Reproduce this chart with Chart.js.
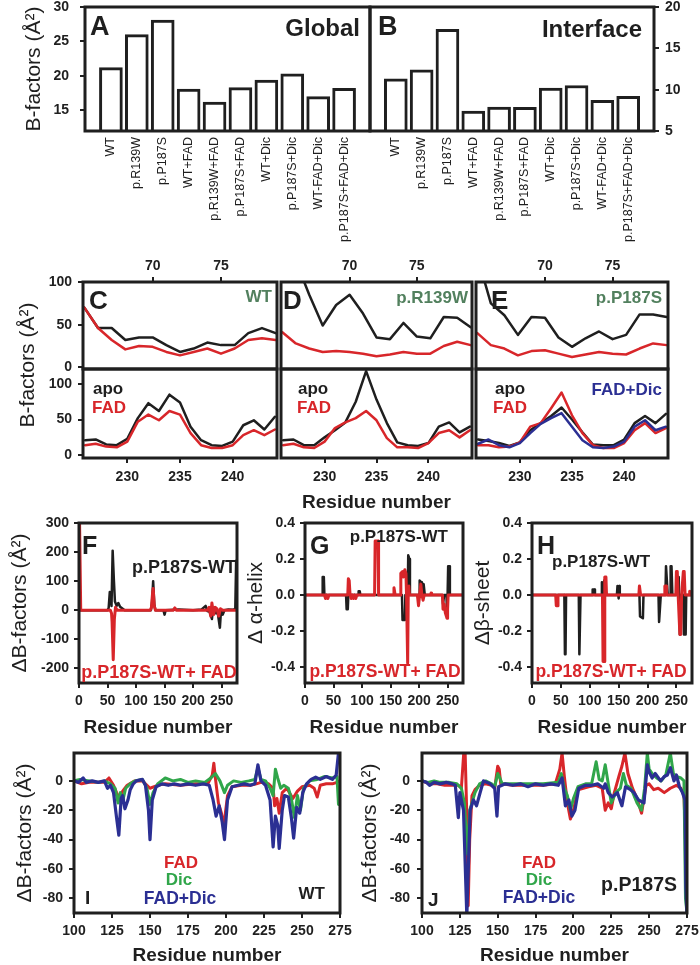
<!DOCTYPE html>
<html>
<head>
<meta charset="utf-8">
<script src="https://cdn.jsdelivr.net/npm/chart.js@4.4.0/dist/chart.umd.min.js"></script>
<style>
  body { margin: 0; background: #fff; }
  #fig { position: relative; width: 700px; height: 965px; overflow: hidden;
         font-family: 'Liberation Sans', Arial, Helvetica, sans-serif; }
  #fig canvas { position: absolute; }
  .note { position: absolute; white-space: nowrap; line-height: 1; font-weight: bold; }
</style>
</head>
<body>
<div id="fig"></div>
<script>
// ---- data ----
const barLabels = ['WT', 'p.R139W', 'p.P187S', 'WT+FAD', 'p.R139W+FAD', 'p.P187S+FAD',
                   'WT+Dic', 'p.P187S+Dic', 'WT-FAD+Dic', 'p.P187S+FAD+Dic'];
const globalB = [21.2, 26.0, 28.1, 18.1, 16.2, 18.3, 19.4, 20.3, 17.0, 18.2];
const interfaceB = [11.3, 12.4, 17.3, 7.4, 7.9, 7.85, 10.2, 10.5, 8.7, 9.2];
const aTicks = [15, 20, 25, 30];
const bTicks = [5, 10, 15, 20];

// residues for the C/D/E zooms (top row uses the upper axis, bottom row the lower one)
const topRes = [65, 66, 67, 68, 69, 70, 71, 72, 73, 74, 75, 76, 77, 78, 79];
const botRes = [226, 227, 228, 229, 230, 231, 232, 233, 234, 235, 236, 237, 238, 239, 240, 241, 242, 243, 244];
const topTicks = [70, 75];
const botTicks = [230, 235, 240];
const subTicks = [0, 50, 100];

const cTopApo = [70, 46, 46, 32, 35, 35, 26, 18, 22, 29, 26, 26, 40, 46, 40];
const cTopFad = [70, 46, 32, 21, 25, 24, 18, 14, 18, 22, 16, 22, 32, 34, 32];
const cBotApo = [21, 22, 15, 14, 23, 52, 73, 62, 85, 74, 40, 21, 14, 13, 19, 42, 49, 36, 54];
const cBotFad = [14, 16, 12, 11, 19, 47, 57, 49, 62, 57, 31, 14, 10, 10, 14, 28, 35, 28, 36];

const dTopApo = [160, 125, 85, 49, 73, 85, 63, 35, 33, 52, 36, 34, 59, 58, 47];
const dTopFad = [41, 28, 22, 18, 19, 18, 16, 13, 15, 18, 16, 16, 25, 30, 26];
const dBotApo = [21, 22, 14, 14, 25, 35, 46, 75, 118, 78, 45, 18, 14, 13, 17, 40, 46, 32, 40];
const dBotFad = [14, 16, 11, 10, 19, 38, 46, 52, 62, 49, 24, 11, 11, 10, 17, 31, 35, 25, 35];

const eTopApo = [130, 75, 61, 38, 59, 58, 35, 24, 34, 42, 33, 38, 62, 62, 59];
const eTopFad = [40, 26, 22, 14, 19, 20, 16, 12, 15, 18, 16, 15, 22, 28, 26];
const eBotApo = [22, 20, 17, 13, 18, 35, 45, 55, 67, 50, 32, 15, 14, 14, 22, 45, 55, 45, 58];
const eBotFad = [14, 14, 11, 12, 18, 40, 45, 66, 88, 56, 31, 14, 10, 10, 17, 35, 45, 31, 38];
const eBotFadDic = [16, 22, 14, 11, 17, 31, 44, 52, 59, 40, 21, 11, 10, 12, 19, 40, 49, 35, 40];

// F/G/H: [residue, difference]
const resTicks = [0, 50, 100, 150, 200, 250];
const fTicks = [-200, -100, 0, 100, 200, 300];
const ghTicks = [-0.4, -0.2, 0, 0.2, 0.4];

const fApo = [[0,0],[50,0],[52,8],[54,63],[56,50],[57,15],[59,205],[61,110],[63,30],[66,15],[69,25],[72,12],[76,6],[80,0],
  [126,0],[128,25],[130,100],[132,20],[134,0],[148,0],[150,-15],[152,0],[175,3],[200,0],[215,3],[222,15],[225,-3],
  [229,-5],[233,-30],[235,5],[238,10],[240,-10],[243,-5],[247,-60],[249,0],[252,-15],[255,0],[262,3],[270,2],[274,5],[275.5,170],[277,170]];
const fFad = [[1,300],[3,0],[20,0],[55,0],[57,-10],[58,-40],[60,-170],[62,-30],[64,10],[67,0],[125,0],[127,10],[129,60],
  [130,75],[132,15],[134,0],[165,0],[168,8],[171,0],[200,0],[225,0],[228,10],[231,-20],[233,25],[236,-15],[239,10],
  [242,5],[245,-20],[248,5],[252,0],[277,0]];

const gApo = [[0,0],[30,0],[31,0.1],[33,0.1],[34,0],[72,0],[73,-0.08],[75,-0.08],[76,0],[93,0],[94,0.02],[96,0.02],[97,0],
  [170,0],[171,-0.14],[175,-0.14],[176,0],[180,0],[181,0.22],[183,0.2],[184,0],[200,0],[201,0.08],[204,0.07],[205,0],
  [208,0.06],[210,0],[241,0],[242,-0.05],[244,0],[248,0],[249,-0.1],[250,0],[251,0.16],[252.5,0.16],[254,0],[277,0]];
const gFad = [[0,0],[34,0],[36,-0.02],[38,0],[40,-0.02],[42,0],[75,0],[76,0.09],[77.5,0.08],[79,0],[81,-0.02],[83,0],
  [85,-0.02],[87,0],[89,-0.02],[91,0],[122,0],[123,0.3],[128,0.3],[129,0],[155,0],[156,0.04],[158,0],[167,0],
  [168,0.12],[171,0.13],[172.5,0.1],[175,0.14],[177,0.12],[178,0],[180,-0.38],[181,0],[182,0.05],[183,0],[197,0],
  [199,-0.06],[201,0],[203,0.06],[205,0],[207,-0.03],[209,0],[220,0],[221,0.01],[222,0],[241,0],[242,-0.08],
  [244,-0.05],[246,-0.1],[249,-0.13],[250,-0.08],[251,0],[277,0]];

const hApo = [[0,0],[56,0],[57,-0.33],[58,-0.33],[59,0],[81,0],[82,-0.33],[83,-0.33],[84,0],[104,0],[105,0.03],[108,0.03],
  [109,0],[120,0],[121,0.07],[123,-0.05],[125,0.08],[126,0],[147,0],[148,0.05],[150,-0.02],[151,0.05],[152,0],
  [186,0],[187,-0.12],[192,-0.13],[193,0],[219,0],[220,-0.15],[221.5,-0.15],[223,0],[231,0],[232,0.16],[233.5,0.16],
  [235,0],[239,0],[240,0.16],[241.5,0.16],[243,0],[253,0],[254,0.1],[256,-0.22],[257,0],[262,0],[263,-0.22],[266,-0.22],[267,0],[277,0]];
const hFad = [[0,0],[41,0],[42,-0.06],[44,-0.06],[45,0],[122,0],[123,-0.37],[125,-0.37],[126,0.1],[128,0.1],[129,0],
  [185,0],[186,0.05],[188,0],[229,0],[230,0.05],[232,0.05],[233,0],[249,0],[250,0.13],[251.5,0.13],[253,0],
  [256,-0.22],[257.5,-0.22],[259,0],[262,0.13],[263.5,0.13],[265,0],[272,0],[273,0.02],[274,0],[277,0]];

// I/J: [residue, ΔB]
const ijRes = [100, 125, 150, 175, 200, 225, 250, 275];
const ijTicks = [-80, -60, -40, -20, 0];

const iFadDic = [[100,0],[103,-1],[106,2],[108,-1],[112,0],[116,-1],[120,0],[122,-5],[124,-3],[126,-8],[128,-25],
  [129.5,-37],[131,-12],[132,-10],[133.5,-19],[135.5,-13],[137,-6],[139,-2],[141,0],[145,1],[147,-3],[149,-20],
  [150,-40],[151.5,-13],[154,-4],[158,-2],[162,-3],[166,-2],[170,-3],[175,-2],[180,-3],[185,-2],[189,-3],
  [191.5,-13],[193.5,-24],[195.5,-17],[197.5,-28],[199,-40],[201,-13],[204,-4],[208,-3],[212,-2],[216,-3],
  [219,-2],[221,11],[223,0],[226,-3],[229,-13],[231,-45],[232.5,-24],[234,-30],[235,-46],[237,-20],[238.5,-10],
  [241,-11],[243,-25],[244.5,-39],[246.5,-18],[248.5,-22],[250.5,-8],[253,-2],[256,1],[259,2.5],[262,1],[266,3],
  [270,1],[272.5,4],[274,19],[275,19]];
const iDic = [[100,0],[104,1],[110,0],[116,-1],[120,0],[124,-2],[127,-5],[129,-15],[130.5,-8],[132,-14],[134,-5],
  [137,-2],[140,0],[145,1],[148,-5],[150,-16],[152,-8],[155,-2],[160,2],[165,0],[170,1],[175,-1],[180,0],[186,-1],
  [190,2],[193,5],[196,0],[199,-8],[201,-3],[205,0],[210,-1],[215,0],[219,1],[221,9],[223,1],[226,0],[229,-5],
  [231,-10],[232.5,8],[234,2],[236,-5],[238,-3],[241,-5],[243,-12],[245,-25],[247,-10],[249,-20],[251,-5],
  [255,0],[260,1],[265,3],[270,2],[273,3],[274,-16],[275,-16]];
const iFad = [[100,0],[105,-2],[110,-1],[115,-1],[120,-1],[123,2],[126,-3],[128,-8],[130,-12],[132,-7],[135,-3],
  [140,0],[145,0],[150,-5],[155,-3],[160,-2],[170,-3],[180,-2],[188,-2],[191,4],[192,12],[193,2],[195,-15],
  [197,-22],[198.5,-31],[201,-10],[204,-4],[210,-3],[216,-3],[220,-2],[223,-1],[228,-2],[231,-5],[232,-17],
  [233.5,-12],[235,-22],[237,-8],[240,-5],[244,-12],[247,-7],[250,-4],[255,-3],[258,-5],[260,-11],[262,-3],
  [266,-2],[270,-2],[273,-1],[275,0]];

const jFadDic = [[100,0],[103,-1],[105,-3],[108,-1],[112,-2],[116,-1],[120,-2],[122,-3],[124,-25],[125,-8],
  [127.4,-20],[129.6,-92],[131.8,-20],[134,-13],[136,-17],[138.4,-8],[140.6,0],[145,-2],[148,-5],[149.5,-24],
  [150.6,-4],[155,-2],[160,-3],[165,-2],[170,-4],[175,-2],[180,-3],[185,-2],[190,-3],[192.5,2],[194.7,-17],
  [197,-13],[199,-24],[201,-20],[203.5,-5],[208,-3],[212,-3],[216,-2],[220,-5],[221,-2],[223,-8],[225.6,-11],
  [229,-8],[232,-17],[234.4,-4],[237.7,-6],[240,-8],[243,-13],[246.6,-15],[248.8,11],[250,6],[252,2],[254,5],
  [257.6,0],[260,3],[262,4],[264,9],[266.4,0],[268,4],[270,-4],[272,-8],[273.7,-13],[274.2,-72],[275,-92]];
const jFad = [[100,0],[105,-2],[110,-2],[115,-3],[120,-3],[124,-3],[126,-5],[127.5,18],[128.5,19],[129.5,-20],
  [130.5,-85],[131.5,-40],[133,-10],[135,-6],[138,-3],[142,-2],[146,-3],[148,-5],[150,10],[151,8],[152,-2],
  [160,-3],[170,-3],[180,-3],[188,-2],[191,8],[192.5,19],[194,3],[196,-15],[198,-26],[200,-20],[203,-6],
  [210,-4],[215,-3],[219,-5],[221,-20],[223,-15],[225,-19],[227,-8],[230,3],[232,10],[234,19],[236,5],
  [239,-5],[242,-12],[245,-22],[248,-3],[250,-2],[253,-6],[256,-5],[260,-8],[264,-5],[268,-3],[271,-5],
  [273,-10],[274,-40],[275,-88]];
const jDic = [[100,0],[104,-1],[108,0],[112,-1],[118,-1],[123,-2],[126,-5],[128,-15],[130,-50],[131.5,-20],
  [133,-15],[135,-8],[138,-2],[142,0],[146,-2],[148,-4],[150,5],[151,3],[153,-2],[160,-2],[170,-2],[180,-2],
  [190,-1],[192,5],[194,-5],[196,-10],[198,-20],[200,-12],[203,-4],[208,-2],[212,-2],[215,13],[217,1],[219,0],
  [221,11],[223,-2],[225,-15],[228,-8],[231,-5],[233,5],[235,-3],[238,-5],[242,-15],[245,-20],[247,-5],
  [248.8,19],[250,8],[252,5],[255,2],[258,0],[261,4],[264,19],[266,5],[268,3],[271,2],[273,0],[274,-80],[275,-90]];

// ---- style ----
const INK = '#1f1f1f', RED = '#d8262a', BLUE = '#2b2f93', GREEN = '#30a64a', SAGE = '#52805e';
Chart.defaults.font.family = "'Liberation Sans', Arial, Helvetica, sans-serif";
Chart.defaults.color = INK;
const tickFont = { size: 14, weight: 'bold' };
const tickGrid = { drawOnChartArea: false, drawTicks: true, tickLength: 5, color: INK, lineWidth: 2, offset: false };

const fig = document.getElementById('fig');

const frame = {
  id: 'frame',
  afterDatasetsDraw(chart) {
    const { ctx, chartArea: a } = chart;
    ctx.save();
    ctx.lineWidth = 3;
    ctx.strokeStyle = INK;
    ctx.strokeRect(a.left, a.top, a.right - a.left, a.bottom - a.top);
    ctx.restore();
  }
};

function scale(o) {
  const horiz = o.pos === 'top' || o.pos === 'bottom';
  const s = {
    type: 'linear', position: o.pos, min: o.min, max: o.max, offset: false,
    display: o.ticks.length > 0 || !!o.title,
    afterBuildTicks: sc => { sc.ticks = o.ticks.map(v => ({ value: v })); },
    ticks: {
      font: o.font || tickFont, padding: o.pad, autoSkip: false, color: INK,
      maxRotation: o.rot || 0, minRotation: o.rot || 0,
      callback: o.fmt || (v => String(v))
    },
    grid: o.marks === false ? { display: false, drawTicks: false } : tickGrid,
    border: { display: false },
    afterFit: sc => {
      if (horiz) sc.height = o.size; else sc.width = o.size;
      sc.paddingLeft = sc.paddingRight = sc.paddingTop = sc.paddingBottom = 0;
    }
  };
  if (o.title) {
    s.title = { display: true, text: o.title, color: INK, font: o.titleFont, padding: o.titlePad };
  }
  return s;
}

function panel(box, m, type, datasets, scales) {
  const c = document.createElement('canvas');
  c.width = box.w + m.l + m.r;
  c.height = box.h + m.t + m.b;
  c.style.left = (box.x - m.l) + 'px';
  c.style.top = (box.y - m.t) + 'px';
  fig.appendChild(c);
  // sides without an axis get plain padding
  const pad = { left: 0, top: 0, right: 0, bottom: 0 };
  const used = Object.values(scales).filter(s => s.display).map(s => s.position);
  if (!used.includes('left')) pad.left = m.l;
  if (!used.includes('top')) pad.top = m.t;
  if (!used.includes('right')) pad.right = m.r;
  if (!used.includes('bottom')) pad.bottom = m.b;
  return new Chart(c, {
    type,
    data: { datasets },
    options: {
      responsive: false, animation: false, events: [],
      layout: { padding: pad },
      plugins: { legend: { display: false }, tooltip: { enabled: false } },
      scales
    },
    plugins: [frame]
  });
}

const line = (pts, color, w, order) => ({
  data: pts.map(p => ({ x: p[0], y: p[1] })),
  borderColor: color, borderWidth: w, pointRadius: 0, tension: 0, fill: false,
  borderJoinStyle: 'round', borderCapStyle: 'round', order
});
const series = (xs, ys, color, w, order) => line(xs.map((x, i) => [x, ys[i]]), color, w, order);

function note(text, x, y, size, color, align, weight) {
  const d = document.createElement('div');
  d.className = 'note';
  d.textContent = text;
  d.style.fontSize = size + 'px';
  d.style.color = color || INK;
  if (weight) d.style.fontWeight = weight;
  d.style.left = x + 'px';
  d.style.top = y + 'px';
  const tx = align === 'right' ? '-100%' : align === 'center' ? '-50%' : '0';
  d.style.transform = 'translate(' + tx + ',-50%)';
  fig.appendChild(d);
  return d;
}

// ---- A / B bar panels ----
const barX = size => scale({ pos: 'bottom', min: 0, max: 11, ticks: barLabels.map((_, i) => i + 1), size, pad: 6,
  rot: 90, font: { size: 12.5 }, marks: false, fmt: v => barLabels[v - 1] });
const bars = vals => [{ data: vals.map((v, i) => ({ x: i + 1, y: v })), backgroundColor: '#fff',
  borderColor: INK, borderWidth: 3, barThickness: 23, clip: 0 }];

panel({ x: 85, y: 7, w: 285, h: 124 }, { l: 85, t: 7, r: 4, b: 119 }, 'bar', bars(globalB), {
  x: barX(119),
  y: scale({ pos: 'left', min: 12, max: 30, ticks: aTicks, size: 85, pad: 11, title: 'B-factors (Å²)',
    titleFont: { size: 21 }, titlePad: { top: 22, bottom: 0 } })
});
panel({ x: 370, y: 7, w: 284, h: 124 }, { l: 4, t: 7, r: 46, b: 119 }, 'bar', bars(interfaceB), {
  x: barX(119),
  y: scale({ pos: 'right', min: 5, max: 20, ticks: bTicks, size: 46, pad: 6 })
});

// ---- C / D / E zoom panels ----
const zoomCols = [
  { x: 83, w: 194, yAxis: true, top: [cTopApo, cTopFad], bot: [cBotApo, cBotFad] },
  { x: 277, w: 195, yAxis: false, top: [dTopApo, dTopFad], bot: [dBotApo, dBotFad], title: true },
  { x: 472, w: 196, yAxis: false, top: [eTopApo, eTopFad], bot: [eBotApo, eBotFad, eBotFadDic] }
];
zoomCols.forEach(col => {
  const ml = col.yAxis ? 83 : 4;
  panel({ x: col.x, y: 282, w: col.w, h: 87 }, { l: ml, t: 32, r: 4, b: 2 }, 'line', [
    series(topRes, col.top[1], RED, 2.5, 1),
    series(topRes, col.top[0], INK, 2.5, 2)
  ], {
    x: scale({ pos: 'top', min: 64.9, max: 79.1, ticks: topTicks, size: 32, pad: 2 }),
    y: scale({ pos: 'left', min: -2, max: 100, ticks: col.yAxis ? subTicks : [], size: ml, pad: 6 })
  });
  const ds = [series(botRes, col.bot[1], RED, 2.5, 1), series(botRes, col.bot[0], INK, 2.5, 2)];
  if (col.bot[2]) ds.push(series(botRes, col.bot[2], BLUE, 2.5, 0));
  const xo = { pos: 'bottom', min: 225.8, max: 244.2, ticks: botTicks, size: 57, pad: 6 };
  if (col.title) Object.assign(xo, { title: 'Residue number', titleFont: { size: 19, weight: 'bold' },
    titlePad: { top: 0, bottom: 1 } });
  panel({ x: col.x, y: 369, w: col.w, h: 89 }, { l: ml, t: 2, r: 4, b: 57 }, 'line', ds, {
    x: scale(xo),
    y: scale({ pos: 'left', min: -4, max: 121, ticks: col.yAxis ? subTicks : [], size: ml, pad: 6 })
  });
});

// ---- F / G / H difference panels ----
const resAxis = () => scale({ pos: 'bottom', min: 0, max: 277, ticks: resTicks, size: 62, pad: 5,
  title: 'Residue number', titleFont: { size: 19, weight: 'bold' }, titlePad: { top: 0, bottom: 6 } });
const dec1 = v => v.toFixed(1);

panel({ x: 79, y: 523, w: 158, h: 160 }, { l: 79, t: 18, r: 8, b: 62 }, 'line',
  [line(fFad, RED, 3, 0), line(fApo, INK, 2.5, 1)], {
  x: resAxis(),
  y: scale({ pos: 'left', min: -250, max: 300, ticks: fTicks, size: 79, pad: 5, title: 'ΔB-factors (Å²)',
    titleFont: { size: 21 }, titlePad: { top: 8, bottom: 0 } })
});
panel({ x: 305, y: 523, w: 158, h: 160 }, { l: 65, t: 18, r: 8, b: 62 }, 'line',
  [line(gFad, RED, 3, 0), line(gApo, INK, 2.5, 1)], {
  x: resAxis(),
  y: scale({ pos: 'left', min: -0.49, max: 0.4, ticks: ghTicks, size: 65, pad: 5, fmt: dec1,
    title: 'Δ α-helix', titleFont: { size: 21 }, titlePad: { top: 3.5, bottom: 0 } })
});
panel({ x: 532, y: 523, w: 160, h: 160 }, { l: 64, t: 18, r: 6, b: 62 }, 'line',
  [line(hFad, RED, 3, 0), line(hApo, INK, 2.5, 1)], {
  x: resAxis(),
  y: scale({ pos: 'left', min: -0.49, max: 0.4, ticks: ghTicks, size: 64, pad: 5, fmt: dec1,
    title: 'Δβ-sheet', titleFont: { size: 21 }, titlePad: { top: 2.5, bottom: 0 } })
});

// ---- I / J ligand panels ----
const ijX = () => scale({ pos: 'bottom', min: 100, max: 275, ticks: ijRes, size: 56, pad: 5,
  title: 'Residue number', titleFont: { size: 19, weight: 'bold' }, titlePad: { top: 0, bottom: 2 } });
panel({ x: 74, y: 753, w: 266, h: 160 }, { l: 74, t: 8, r: 14, b: 56 }, 'line',
  [line(iFadDic, BLUE, 3.2, 0), line(iDic, GREEN, 3, 1), line(iFad, RED, 3, 2)], {
  x: ijX(),
  y: scale({ pos: 'left', min: -90, max: 19, ticks: ijTicks, size: 74, pad: 6, title: 'ΔB-factors (Å²)',
    titleFont: { size: 21 }, titlePad: { top: 13, bottom: 0 } })
});
panel({ x: 422, y: 753, w: 265, h: 160 }, { l: 72, t: 8, r: 13, b: 56 }, 'line',
  [line(jFadDic, BLUE, 3.2, 0), line(jDic, GREEN, 3, 1), line(jFad, RED, 3, 2)], {
  x: ijX(),
  y: scale({ pos: 'left', min: -90, max: 19, ticks: ijTicks, size: 72, pad: 7, title: 'ΔB-factors (Å²)',
    titleFont: { size: 21 }, titlePad: { top: 8, bottom: 0 } })
});

// ---- annotations ----
note('A', 90, 26, 27);
note('Global', 360, 28, 24, INK, 'right');
note('B', 378, 26, 27);
note('Interface', 642, 29, 24, INK, 'right');

const yT = note('B-factors (Å²)', 26, 365, 21, INK, 'center', 'normal');
yT.style.transform = 'translate(-50%,-50%) rotate(-90deg)';

note('C', 89, 300, 26);
note('WT', 272, 296, 17, SAGE, 'right');
note('apo', 93, 388, 17);
note('FAD', 92, 407, 17, RED);
note('D', 283, 300, 26);
note('p.R139W', 468, 297, 17, SAGE, 'right');
note('apo', 298, 388, 17);
note('FAD', 297, 407, 17, RED);
note('E', 491, 300, 26);
note('p.P187S', 662, 297, 17, SAGE, 'right');
note('apo', 495, 388, 17);
note('FAD', 493, 407, 17, RED);
note('FAD+Dic', 662, 389, 17, BLUE, 'right');

note('F', 82, 545, 25);
note('p.P187S-WT', 236, 567, 18, INK, 'right');
note('p.P187S-WT+ FAD', 159, 672, 18, RED, 'center');
note('G', 310, 545, 25);
note('p.P187S-WT', 448, 536, 17, INK, 'right');
note('p.P187S-WT+ FAD', 385, 672, 17.5, RED, 'center');
note('H', 537, 545, 25);
note('p.P187S-WT', 552, 561, 17);
note('p.P187S-WT+ FAD', 611, 672, 17.5, RED, 'center');

note('FAD', 181, 862, 17, RED, 'center');
note('Dic', 179, 879, 17, GREEN, 'center');
note('FAD+Dic', 180, 899, 17.5, BLUE, 'center');
note('I', 85, 897, 19);
note('WT', 325, 893, 17, INK, 'right');
note('FAD', 539, 862, 17, RED, 'center');
note('Dic', 539, 879, 17, GREEN, 'center');
note('FAD+Dic', 539, 898, 17.5, BLUE, 'center');
note('J', 428, 899, 19);
note('p.P187S', 677, 885, 19.5, INK, 'right');
</script>
</body>
</html>
